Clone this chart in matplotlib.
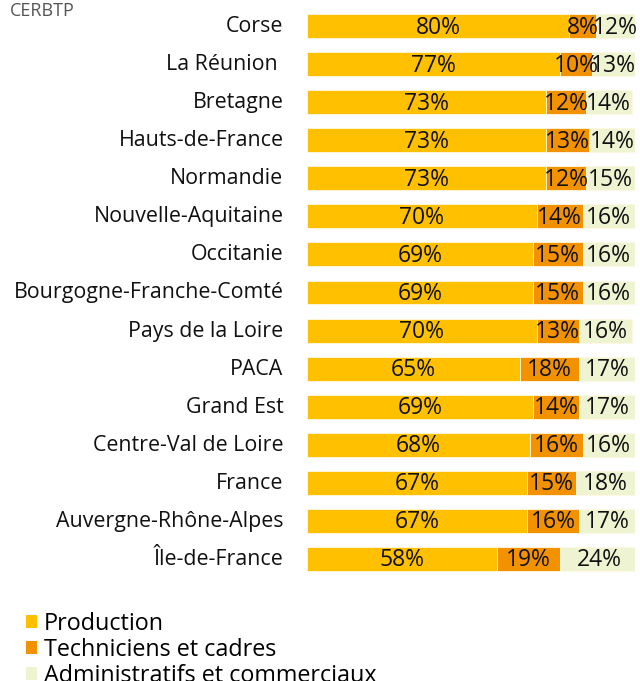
import numpy as np
import matplotlib
matplotlib.use('Agg')
import matplotlib.pyplot as plt
import matplotlib.transforms as mtrans
from matplotlib.patches import Patch

plt.rcParams['font.family'] = ['Open Sans', 'DejaVu Sans']

# Data (share of jobs, %)
regions = ['Corse', 'La Réunion ', 'Bretagne', 'Hauts-de-France', 'Normandie',
           'Nouvelle-Aquitaine', 'Occitanie', 'Bourgogne-Franche-Comté',
           'Pays de la Loire', 'PACA', 'Grand Est', 'Centre-Val de Loire',
           'France', 'Auvergne-Rhône-Alpes', 'Île-de-France']
production = [80, 77, 73, 73, 73, 70, 69, 69, 70, 65, 69, 68, 67, 67, 58]
techniciens = [8, 10, 12, 13, 12, 14, 15, 15, 13, 18, 14, 16, 15, 16, 19]
administratifs = [12, 13, 14, 14, 15, 16, 16, 16, 16, 17, 17, 16, 18, 17, 24]

series = [('Production', production, '#FFC000'),
          ('Techniciens et cadres', techniciens, '#F39200'),
          ('Administratifs et commerciaux', administratifs, '#EEF3D2')]

W, H = 640, 681
fig = plt.figure(figsize=(W / 100, H / 100), dpi=100)
ax = fig.add_axes([307 / W, (H - 578) / H, 328 / W, 571 / H])

y = np.arange(len(regions))
left = np.zeros(len(regions))
for name, vals, col in series:
    vals = np.array(vals, dtype=float)
    ax.barh(y, vals, left=left, height=0.63, color=col, edgecolor='#fff8e0',
            linewidth=0.6, label=name)
    for yi, l, v in zip(y, left, vals):
        ax.text(l + v / 2, yi + 0.04, '%d%%' % v, ha='center', va='center',
                fontsize=16.5, color='#111111')
    left += vals

ax.set_xlim(0, 100)
ax.set_ylim(len(regions) - 0.5, -0.5)
ax.set_yticks(y)
ax.set_yticklabels(regions, fontsize=15.4, color='#111111')
ax.tick_params(axis='y', length=0, pad=17)
shift = mtrans.ScaledTranslation(0, 2 / 100, fig.dpi_scale_trans)
for lab in ax.get_yticklabels():
    lab.set_transform(lab.get_transform() + shift)
ax.set_xticks([])
for s in ax.spines.values():
    s.set_visible(False)

fig.text(10 / W, 1 - 2 / H, 'CERBTP', ha='left', va='top', fontsize=13,
         color='#555555')

handles = [Patch(facecolor=c, edgecolor='none') for _, _, c in series]
fig.legend(handles, [n for n, _, _ in series], loc='upper left',
           bbox_to_anchor=(26 / W, 1 - 612 / H), frameon=False, fontsize=16.8,
           handlelength=0.47, handleheight=0.47, handletextpad=0.3,
           labelspacing=0.08, borderaxespad=0, borderpad=0)

fig.savefig('out.png', dpi=100)
